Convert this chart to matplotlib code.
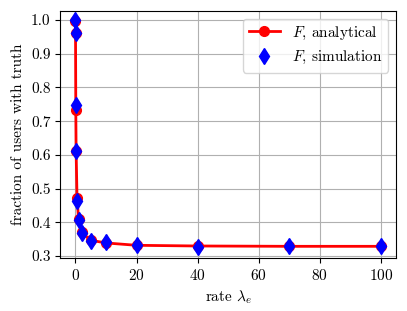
import numpy as np
import matplotlib.pyplot as plt

plt.rcParams['font.family'] = 'serif'
plt.rcParams['font.serif'] = ['cmr10']
plt.rcParams['mathtext.fontset'] = 'cm'
plt.rcParams['axes.formatter.use_mathtext'] = True
plt.rcParams['font.size'] = 11

# rate values and fraction of users with truth
rates = [0, 0.01, 0.1, 0.2, 0.5, 1, 2, 5, 10, 20, 40, 70, 100]
analytical = [0.998, 0.960, 0.733, 0.613, 0.473, 0.410, 0.370, 0.347, 0.339, 0.332, 0.330, 0.329, 0.329]
simulation = [1.0, 0.962, 0.748, 0.613, 0.463, 0.408, 0.368, 0.346, 0.343, 0.333, 0.328, 0.329, 0.329]

fig, ax = plt.subplots(figsize=(4.07, 3.11), dpi=100)
ax.plot(rates, analytical, color='red', marker='o', lw=2, ms=7, label=r'$F$, analytical', zorder=2)
ax.plot(rates, simulation, color='blue', marker='d', ls='none', ms=8, label=r'$F$, simulation', zorder=3)

ax.set_xlabel(r'rate $\lambda_e$')
ax.set_ylabel('fraction of users with truth')
ax.set_ylim(0.294, 1.027)
ax.set_xticks([0, 20, 40, 60, 80, 100])
ax.set_yticks(np.arange(0.3, 1.01, 0.1))
ax.set_yticklabels(['%.1f' % v for v in np.arange(0.3, 1.01, 0.1)])
ax.grid(True, color='#b0b0b0', lw=0.8)
ax.set_axisbelow(True)
ax.legend(loc='upper right')

fig.subplots_adjust(left=0.148, right=0.973, top=0.965, bottom=0.17)
fig.savefig('out.png', dpi=100)
